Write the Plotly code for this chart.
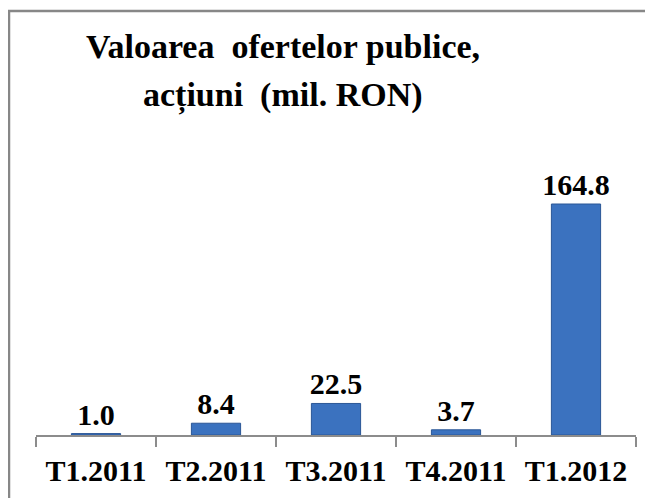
import plotly.graph_objects as go

categories = ["T1.2011", "T2.2011", "T3.2011", "T4.2011", "T1.2012"]
values = [1.0, 8.4, 22.5, 3.7, 164.8]
value_labels = ["1.0", "8.4", "22.5", "3.7", "164.8"]
title_lines = ["Valoarea  ofertelor publice,", "acțiuni  (mil. RON)"]

# page has an 8px body margin; figure sized to fit the window
OFF = 8
W, H = 653 - OFF, 498 - OFF
L, R, T, B = 36 - OFF, 17, 155 - OFF, 63
plot_w = W - L - R
plot_h = H - T - B

def px_x(px):  # page pixel -> paper
    return (px - OFF - L) / plot_w

def px_y(py):
    return (H - B - (py - OFF)) / plot_h

font_family = "Liberation Serif"

fig = go.Figure()
fig.add_trace(go.Bar(
    x=categories,
    y=values,
    width=0.41,
    marker=dict(color="#3B72BF", line=dict(color="#2B5796", width=1)),
    text=value_labels,
    textposition="outside",
    constraintext="none",
    textfont=dict(family=font_family, size=30, color="#000000", weight="bold"),
    cliponaxis=False,
))

fig.update_layout(
    width=W, height=H,
    margin=dict(l=L, r=R, t=T, b=B, pad=0, autoexpand=False),
    paper_bgcolor="white",
    plot_bgcolor="white",
    showlegend=False,
    xaxis=dict(
        type="category", automargin=False,
        showline=True, linecolor="#8C8C8C", linewidth=1.5,
        ticks="outside", tickson="boundaries", ticklen=10, tickcolor="#8C8C8C", tickwidth=1.5,
        ticklabelstandoff=8,
        tickfont=dict(family=font_family, size=30, color="#000000", weight="bold"),
        showgrid=False, zeroline=False,
    ),
    yaxis=dict(
        range=[0, 164.8 * plot_h / 231.0], automargin=False,
        visible=False, showgrid=False, zeroline=False,
    ),
)

# outer frame (clipped at right and bottom, as in the reference)
fig.add_shape(type="rect", xref="paper", yref="paper",
              x0=px_x(9), x1=px_x(700), y0=px_y(540), y1=px_y(11),
              line=dict(color="#878787", width=2.5), fillcolor="rgba(0,0,0,0)", layer="below")

fig.add_annotation(text=title_lines[0], xref="paper", yref="paper",
                   x=px_x(283), y=px_y(46), xanchor="center", yanchor="middle",
                   showarrow=False, font=dict(family=font_family, size=34, color="#000000", weight="bold"))
fig.add_annotation(text=title_lines[1], xref="paper", yref="paper",
                   x=px_x(283), y=px_y(95), xanchor="center", yanchor="middle",
                   showarrow=False, font=dict(family=font_family, size=34, color="#000000", weight="bold"))

fig.write_html("out.html")
